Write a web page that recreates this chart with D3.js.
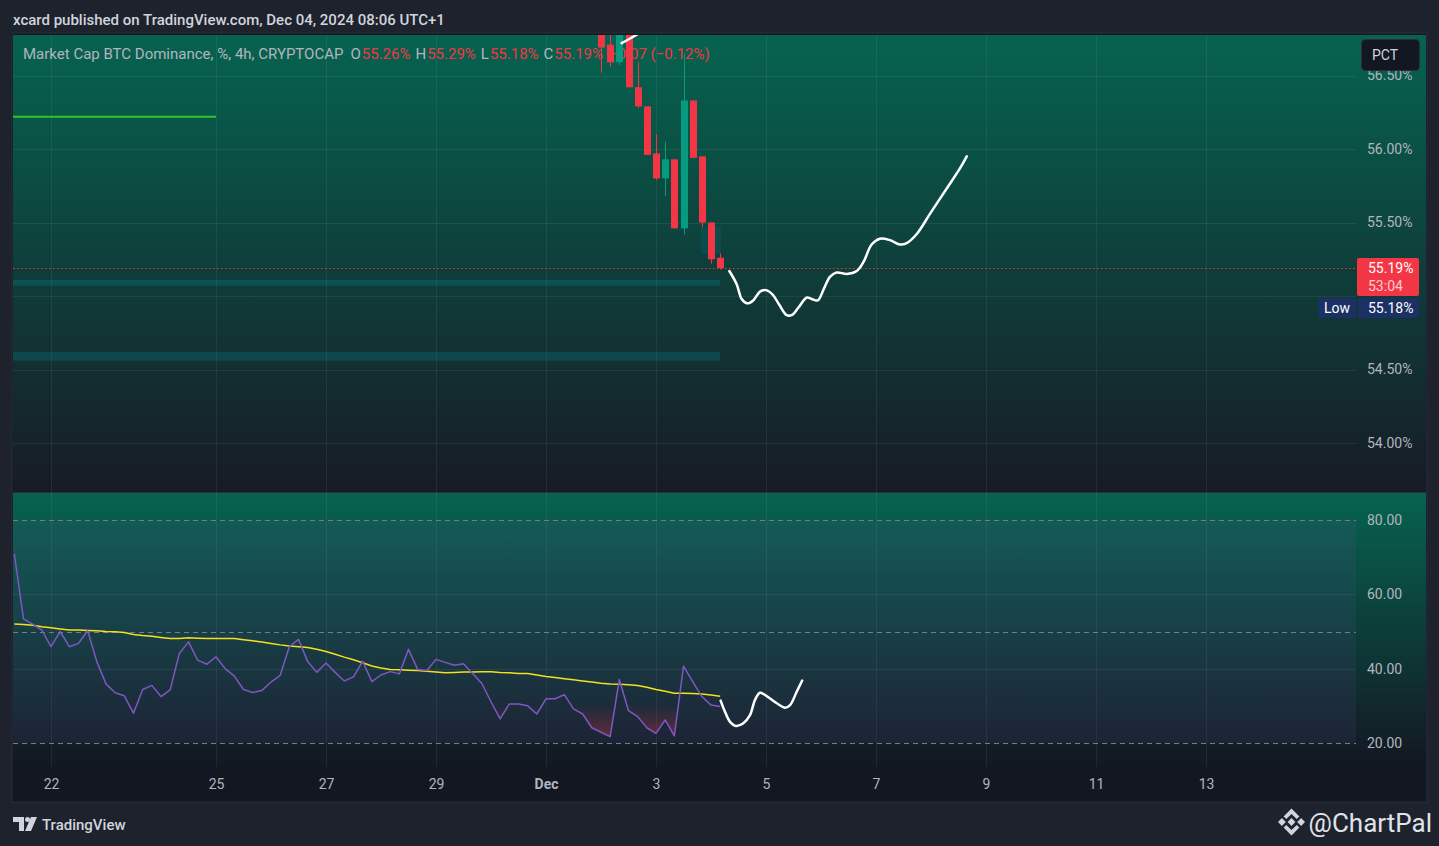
<!DOCTYPE html>
<html>
<head>
<meta charset="utf-8">
<script src="https://cdn.jsdelivr.net/npm/d3@7/dist/d3.min.js"></script>
<style>
  html, body { margin: 0; padding: 0; background: #1e222d; overflow: hidden; }
  svg { display: block; font-family: Roboto, "Noto Sans", sans-serif; }
</style>
</head>
<body>
<div id="chart"></div>
<script>
var WIDTH = 1439;
var HEIGHT = 846;

// ---- data ----
var candleTimes = ['2024-12-02T00:00:00Z', '2024-12-02T04:00:00Z', '2024-12-02T08:00:00Z', '2024-12-02T12:00:00Z',
  '2024-12-02T16:00:00Z', '2024-12-02T20:00:00Z', '2024-12-03T00:00:00Z', '2024-12-03T04:00:00Z',
  '2024-12-03T08:00:00Z', '2024-12-03T12:00:00Z', '2024-12-03T16:00:00Z', '2024-12-03T20:00:00Z',
  '2024-12-04T00:00:00Z', '2024-12-04T04:00:00Z'];
var opens  = [56.95, 56.71, 56.59, 56.84, 56.42, 56.29, 55.97, 55.80, 55.93, 55.46, 56.33, 55.95, 55.50, 55.26];
var highs  = [57.02, 56.88, 56.90, 56.88, 56.59, 56.29, 56.10, 56.05, 55.93, 56.65, 56.33, 55.95, 55.50, 55.29];
var lows   = [56.52, 56.56, 56.57, 56.42, 56.28, 55.96, 55.79, 55.68, 55.46, 55.42, 55.94, 55.47, 55.22, 55.18];
var closes = [56.69, 56.59, 56.84, 56.42, 56.29, 55.96, 55.80, 55.93, 55.46, 56.33, 55.94, 55.50, 55.25, 55.19];
var legendChange = '\u22120.07 (\u22120.12%)';

// RSI (4h) from Nov 21 08:00 to Dec 4 04:00
var rsiValues = [70.9, 53.4, 52.0, 50.4, 45.9, 50.0, 45.9, 46.8, 50.2, 41.9,
  35.9, 33.5, 32.7, 28.0, 34.4, 35.5, 32.5, 34.3, 44.1, 47.2,
  42.3, 41.2, 43.2, 40.0, 38.0, 34.4, 33.6, 34.1, 36.4, 38.2,
  45.9, 47.9, 41.9, 39.0, 41.5, 39.0, 36.7, 37.8, 42.0, 36.5,
  38.3, 39.2, 38.6, 45.2, 39.8, 39.5, 42.5, 41.7, 40.9, 41.3,
  38.7, 36.0, 31.1, 26.5, 30.5, 30.5, 30.0, 27.8, 31.9, 31.9,
  33.0, 29.2, 27.8, 24.1, 22.9, 21.7, 37.1, 28.7, 27.1, 24.1,
  22.6, 26.2, 21.9, 40.7, 36.5, 32.5, 30.2, 29.8];
var rsiMaValues = [52.0, 51.9, 51.7, 51.3, 51.0, 50.7, 50.4, 50.4, 50.3, 50.2,
  50.0, 49.9, 49.7, 49.2, 48.9, 48.7, 48.4, 48.1, 48.1, 48.3,
  48.2, 48.1, 48.1, 48.1, 48.1, 47.8, 47.5, 47.2, 46.8, 46.4,
  46.1, 45.9, 45.7, 45.2, 44.6, 43.9, 43.1, 42.4, 41.6, 40.7,
  40.2, 39.8, 39.7, 39.6, 39.5, 39.3, 39.1, 38.9, 39.0, 39.1,
  39.1, 39.2, 39.2, 39.0, 38.9, 38.7, 38.7, 38.3, 37.9, 37.6,
  37.3, 37.0, 36.7, 36.4, 36.1, 35.9, 35.8, 35.7, 35.5, 35.0,
  34.4, 33.9, 33.4, 33.4, 33.3, 33.2, 32.9, 32.6];

// hand drawn projections: hours after Dec 1 00:00, value
var sketchHours  = [80.0, 83.2, 85.4, 87.8, 90.4, 93.4, 96.0, 98.9, 101.8, 105.0, 107.2, 110.1, 113.8, 115.9,
  118.6, 121.0, 123.9, 126.8, 131.2, 135.6, 138.5, 142.1, 145.7, 150.1, 154.5, 157.4, 161.7, 167.6, 174.8, 180.7, 183.6];
var sketchPrices = [55.17, 55.08, 54.98, 54.95, 54.97, 55.03, 55.04, 55.01, 54.94, 54.87, 54.87, 54.92, 54.99, 54.98,
  54.97, 55.04, 55.13, 55.16, 55.15, 55.17, 55.23, 55.35, 55.39, 55.38, 55.35, 55.36, 55.42, 55.56, 55.73, 55.87, 55.95];
var topSketchHours  = [33.0, 36.5, 42.0];
var topSketchPrices = [56.72, 56.75, 56.80];
var rsiSketchHours  = [76.2, 78.1, 80.3, 82.9, 86.1, 89.0, 91.2, 93.4, 96.3, 100.7, 104.3, 106.5, 109.4, 111.8];
var rsiSketchValues = [31.4, 28.4, 25.7, 24.6, 25.3, 27.5, 31.6, 33.5, 32.6, 30.7, 29.5, 30.2, 33.8, 36.8];

// drawn zones: [price low, price high]
var zoneBands = [[55.07, 55.11], [54.56, 54.62]];
var zoneEnd = '2024-12-04T04:00:00Z';
var smallBox = {start: 67.6, end: 76.4, low: 55.29, high: 55.47};
var greenLevel = {price: 56.22, end: '2024-11-25T00:00:00Z'};

var priceTicks = [54, 54.5, 55, 55.5, 56, 56.5];
var rsiTicks = [20, 40, 60, 80];
var rsiBands = [80, 50, 20];
var xTickDates = ['2024-11-22', '2024-11-25', '2024-11-27', '2024-11-29', '2024-12-01', '2024-12-03',
  '2024-12-05', '2024-12-07', '2024-12-09', '2024-12-11', '2024-12-13'];
var xTickLabels = ['22', '25', '27', '29', 'Dec', '3', '5', '7', '9', '11', '13'];

var lastPrice = 55.19;
var lowPrice = 55.18;

// ---- layout ----
var PANE_L = 13, PANE_R = 1356, AXIS_R = 1426;
var MAIN_T = 35, MAIN_B = 492;
var RSI_T = 493, RSI_B = 767;
var FRAME_B = 801;

var RED = '#f23645', GREEN = '#089981';

var dec1 = Date.UTC(2024, 11, 1);
function hoursToDate(h) { return new Date(dec1 + h * 3600e3); }

function makeSVG() {
  var svg = d3.select('#chart').append('svg')
    .attr('width', WIDTH)
    .attr('height', HEIGHT);
  return svg;
}

var svg = makeSVG();

var x = d3.scaleUtc()
  .domain([d3.isoParse('2024-11-22T00:00:00Z'), d3.isoParse('2024-12-13T00:00:00Z')])
  .range([51, 1206]);
var y = d3.scaleLinear().domain([54, 56]).range([443, 149]);
var ry = d3.scaleLinear().domain([20, 80]).range([743, 520]);

var defs = svg.append('defs');

function paneGradient(id, top, bottom, bottomColor) {
  var g = defs.append('linearGradient').attr('id', id)
    .attr('gradientUnits', 'userSpaceOnUse')
    .attr('x1', 0).attr('x2', 0).attr('y1', top).attr('y2', bottom);
  g.append('stop').attr('offset', 0).attr('stop-color', '#06634f');
  g.append('stop').attr('offset', 1).attr('stop-color', bottomColor);
}
paneGradient('mainBg', MAIN_T, MAIN_B, '#171b26');
paneGradient('rsiBg', RSI_T, RSI_B, '#131722');

var osGrad = defs.append('linearGradient').attr('id', 'osFill')
  .attr('gradientUnits', 'userSpaceOnUse')
  .attr('x1', 0).attr('x2', 0).attr('y1', ry(30)).attr('y2', ry(20));
osGrad.append('stop').attr('offset', 0).attr('stop-color', RED).attr('stop-opacity', 0);
osGrad.append('stop').attr('offset', 1).attr('stop-color', RED).attr('stop-opacity', 0.4);

var obGrad = defs.append('linearGradient').attr('id', 'obFill')
  .attr('gradientUnits', 'userSpaceOnUse')
  .attr('x1', 0).attr('x2', 0).attr('y1', ry(70)).attr('y2', ry(80));
obGrad.append('stop').attr('offset', 0).attr('stop-color', GREEN).attr('stop-opacity', 0);
obGrad.append('stop').attr('offset', 1).attr('stop-color', GREEN).attr('stop-opacity', 0.4);

defs.append('clipPath').attr('id', 'mainClip').append('rect')
  .attr('x', PANE_L).attr('y', MAIN_T).attr('width', PANE_R - PANE_L).attr('height', MAIN_B - MAIN_T);
defs.append('clipPath').attr('id', 'rsiClip').append('rect')
  .attr('x', PANE_L).attr('y', RSI_T).attr('width', PANE_R - PANE_L).attr('height', RSI_B - RSI_T);
defs.append('clipPath').attr('id', 'osClip').append('rect')
  .attr('x', PANE_L).attr('y', ry(30)).attr('width', PANE_R - PANE_L).attr('height', RSI_B - ry(30));
defs.append('clipPath').attr('id', 'obClip').append('rect')
  .attr('x', PANE_L).attr('y', RSI_T).attr('width', PANE_R - PANE_L).attr('height', ry(70) - RSI_T);

// ---- frame & backgrounds ----
svg.append('rect').attr('width', WIDTH).attr('height', HEIGHT).attr('fill', '#1e222d');
svg.append('rect').attr('x', 12).attr('y', 33).attr('width', AXIS_R - 12 + 1).attr('height', FRAME_B - 33 + 1)
  .attr('fill', '#131722').attr('stroke', '#2a2e39');
svg.append('rect').attr('x', PANE_L).attr('y', MAIN_T).attr('width', AXIS_R - PANE_L).attr('height', MAIN_B - MAIN_T)
  .attr('fill', 'url(#mainBg)');
svg.append('rect').attr('x', PANE_L).attr('y', RSI_T).attr('width', AXIS_R - PANE_L).attr('height', RSI_B - RSI_T)
  .attr('fill', 'url(#rsiBg)');
svg.append('line').attr('x1', PANE_L).attr('x2', AXIS_R).attr('y1', 492.5).attr('y2', 492.5)
  .attr('stroke', '#2a2e39');

svg.append('text').attr('x', 13).attr('y', 25)
  .attr('fill', '#d1d4dc').attr('font-size', 15).attr('font-weight', 500)
  .text('xcard published on TradingView.com, Dec 04, 2024 08:06 UTC+1');

// ---- grid ----
var grid = svg.append('g').attr('stroke', 'rgba(240,243,250,0.07)').attr('stroke-width', 1);
grid.selectAll('line.v').data(xTickDates).enter().append('line')
  .attr('x1', function (d) { return Math.round(x(d3.isoParse(d + 'T00:00:00Z'))) + 0.5; })
  .attr('x2', function (d) { return Math.round(x(d3.isoParse(d + 'T00:00:00Z'))) + 0.5; })
  .attr('y1', MAIN_T).attr('y2', RSI_B);
grid.selectAll('line.h').data(priceTicks).enter().append('line')
  .attr('x1', PANE_L).attr('x2', PANE_R)
  .attr('y1', function (d) { return Math.round(y(d)) + 0.5; })
  .attr('y2', function (d) { return Math.round(y(d)) + 0.5; });
grid.selectAll('line.r').data([40, 60]).enter().append('line')
  .attr('x1', PANE_L).attr('x2', PANE_R)
  .attr('y1', function (d) { return Math.round(ry(d)) + 0.5; })
  .attr('y2', function (d) { return Math.round(ry(d)) + 0.5; });

// ---- main pane ----
var main = svg.append('g').attr('clip-path', 'url(#mainClip)');

// legend sits under the candles
var legend = main.append('text').attr('x', 23).attr('y', 59).attr('font-size', 15).attr('fill', '#b2b5be');
legend.append('tspan').text('Market Cap BTC Dominance, %, 4h, CRYPTOCAP');
var ohlc = [['O', opens[13]], ['H', highs[13]], ['L', lows[13]], ['C', closes[13]]];
ohlc.forEach(function (p, i) {
  legend.append('tspan').attr('dx', i === 0 ? 7 : 5).text(p[0]);
  legend.append('tspan').attr('dx', 1).attr('fill', RED).text(p[1].toFixed(2) + '%');
});
legend.append('tspan').attr('dx', 6).attr('fill', RED).text(legendChange);

main.selectAll('rect.zone').data(zoneBands).enter().append('rect')
  .attr('x', PANE_L)
  .attr('width', x(d3.isoParse(zoneEnd)) - PANE_L)
  .attr('y', function (d) { return y(d[1]); })
  .attr('height', function (d) { return y(d[0]) - y(d[1]); })
  .attr('fill', 'rgba(0,188,212,0.17)');

main.append('rect')
  .attr('x', x(hoursToDate(smallBox.start)))
  .attr('width', x(hoursToDate(smallBox.end)) - x(hoursToDate(smallBox.start)))
  .attr('y', y(smallBox.high))
  .attr('height', y(smallBox.low) - y(smallBox.high))
  .attr('fill', 'rgba(0,130,150,0.18)');

main.append('line')
  .attr('x1', PANE_L).attr('x2', x(d3.isoParse(greenLevel.end)))
  .attr('y1', y(greenLevel.price)).attr('y2', y(greenLevel.price))
  .attr('stroke', '#2dc52b').attr('stroke-width', 2);

main.append('line')
  .attr('x1', PANE_L).attr('x2', PANE_R)
  .attr('y1', Math.round(y(lastPrice)) + 0.5).attr('y2', Math.round(y(lastPrice)) + 0.5)
  .attr('stroke', RED).attr('stroke-width', 1).attr('stroke-dasharray', '1.5,2.5');

var candles = candleTimes.map(function (t, i) {
  return {t: d3.isoParse(t), o: opens[i], h: highs[i], l: lows[i], c: closes[i]};
});
var bodyW = 7;
var cg = main.selectAll('g.candle').data(candles).enter().append('g')
  .attr('fill', function (d) { return d.c >= d.o ? GREEN : RED; })
  .attr('stroke', function (d) { return d.c >= d.o ? GREEN : RED; });
cg.append('line')
  .attr('x1', function (d) { return Math.round(x(d.t)) + 0.5; })
  .attr('x2', function (d) { return Math.round(x(d.t)) + 0.5; })
  .attr('y1', function (d) { return y(d.h); })
  .attr('y2', function (d) { return y(d.l); });
cg.append('rect')
  .attr('stroke', 'none')
  .attr('x', function (d) { return Math.round(x(d.t)) - 3; })
  .attr('width', bodyW)
  .attr('y', function (d) { return y(Math.max(d.o, d.c)); })
  .attr('height', function (d) { return Math.max(1, Math.abs(y(d.o) - y(d.c))); });

var sketchLine = d3.line().curve(d3.curveCatmullRom.alpha(0.5))
  .x(function (d) { return x(hoursToDate(d[0])); })
  .y(function (d) { return y(d[1]); });
main.append('path')
  .datum(d3.zip(sketchHours, sketchPrices))
  .attr('d', sketchLine)
  .attr('fill', 'none').attr('stroke', '#ffffff').attr('stroke-width', 2.5)
  .attr('stroke-linecap', 'round').attr('stroke-linejoin', 'round');
main.append('path')
  .datum(d3.zip(topSketchHours, topSketchPrices))
  .attr('d', sketchLine)
  .attr('fill', 'none').attr('stroke', '#ffffff').attr('stroke-width', 2.5)
  .attr('stroke-linecap', 'round');

// ---- price axis ----
var lastY = y(lastPrice);
var yAxis = d3.axisRight(y).tickValues(priceTicks.filter(function (t) {
  return Math.abs(y(t) - (lastY + 40)) > 14;
})).tickSize(0).tickPadding(0).tickFormat(function (d) { return d.toFixed(2) + '%'; });
var ya = svg.append('g').attr('transform', 'translate(1367,0)').call(yAxis);
ya.select('.domain').remove();
ya.selectAll('text').attr('fill', '#b2b5be').attr('font-size', 14).attr('font-family', 'Roboto, sans-serif');

svg.append('rect').attr('x', 1357).attr('y', lastY - 10).attr('width', 62).attr('height', 38)
  .attr('rx', 2).attr('fill', RED);
svg.append('text').attr('x', 1368).attr('y', lastY + 5).attr('font-size', 14).attr('fill', '#ffffff')
  .text(lastPrice.toFixed(2) + '%');
svg.append('text').attr('x', 1368).attr('y', lastY + 23).attr('font-size', 14).attr('fill', 'rgba(255,255,255,0.75)')
  .text('53:04');
svg.append('rect').attr('x', 1318).attr('y', lastY + 30).attr('width', 38).attr('height', 20).attr('fill', '#1b3164');
svg.append('rect').attr('x', 1358).attr('y', lastY + 30).attr('width', 61).attr('height', 20).attr('fill', '#1b3164');
svg.append('text').attr('x', 1337).attr('y', lastY + 45).attr('text-anchor', 'middle')
  .attr('font-size', 14).attr('fill', '#ffffff').text('Low');
svg.append('text').attr('x', 1368).attr('y', lastY + 45).attr('font-size', 14).attr('fill', '#ffffff')
  .text(lowPrice.toFixed(2) + '%');

svg.append('rect').attr('x', 1361.5).attr('y', 39.5).attr('width', 58).attr('height', 31).attr('rx', 4)
  .attr('fill', '#131722').attr('stroke', '#2a2e39');
svg.append('text').attr('x', 1385).attr('y', 60).attr('text-anchor', 'middle')
  .attr('font-size', 14).attr('fill', '#d1d4dc').text('PCT');

// ---- RSI pane ----
var rsi = svg.append('g').attr('clip-path', 'url(#rsiClip)');
rsi.append('rect').attr('x', PANE_L).attr('width', PANE_R - PANE_L)
  .attr('y', ry(80)).attr('height', ry(20) - ry(80))
  .attr('fill', 'rgba(126,87,194,0.1)');
rsi.selectAll('line.band').data(rsiBands).enter().append('line')
  .attr('x1', PANE_L).attr('x2', PANE_R)
  .attr('y1', function (d) { return Math.round(ry(d)) + 0.5; })
  .attr('y2', function (d) { return Math.round(ry(d)) + 0.5; })
  .attr('stroke', '#787b86').attr('stroke-dasharray', '5,4');

var rsiTimes = d3.utcHour.every(4).range(new Date(Date.UTC(2024, 10, 21, 8)), new Date(Date.UTC(2024, 11, 4, 8)));
var rsiData = rsiTimes.map(function (t, i) { return {t: t, v: rsiValues[i], m: rsiMaValues[i]}; });

rsi.append('path').datum(rsiData)
  .attr('clip-path', 'url(#osClip)')
  .attr('fill', 'url(#osFill)')
  .attr('d', d3.area().x(function (d) { return x(d.t); }).y0(ry(30)).y1(function (d) { return ry(d.v); }));
rsi.append('path').datum(rsiData)
  .attr('clip-path', 'url(#obClip)')
  .attr('fill', 'url(#obFill)')
  .attr('d', d3.area().x(function (d) { return x(d.t); }).y0(ry(70)).y1(function (d) { return ry(d.v); }));

rsi.append('path').datum(rsiData)
  .attr('fill', 'none').attr('stroke', '#f5e21b').attr('stroke-width', 1.5)
  .attr('d', d3.line().x(function (d) { return x(d.t); }).y(function (d) { return ry(d.m); }));
rsi.append('path').datum(rsiData)
  .attr('fill', 'none').attr('stroke', '#7e57c2').attr('stroke-width', 1.5).attr('stroke-linejoin', 'round')
  .attr('d', d3.line().x(function (d) { return x(d.t); }).y(function (d) { return ry(d.v); }));

rsi.append('path')
  .datum(d3.zip(rsiSketchHours, rsiSketchValues))
  .attr('d', d3.line().curve(d3.curveCatmullRom.alpha(0.5))
    .x(function (d) { return x(hoursToDate(d[0])); })
    .y(function (d) { return ry(d[1]); }))
  .attr('fill', 'none').attr('stroke', '#ffffff').attr('stroke-width', 2.5)
  .attr('stroke-linecap', 'round').attr('stroke-linejoin', 'round');

var rAxis = d3.axisRight(ry).tickValues(rsiTicks).tickSize(0).tickPadding(0)
  .tickFormat(function (d) { return d.toFixed(2); });
var ra = svg.append('g').attr('transform', 'translate(1367,0)').call(rAxis);
ra.select('.domain').remove();
ra.selectAll('text').attr('fill', '#b2b5be').attr('font-size', 14).attr('font-family', 'Roboto, sans-serif');

// ---- time axis ----
var xAxis = d3.axisBottom(x)
  .tickValues(xTickDates.map(function (d) { return d3.isoParse(d + 'T00:00:00Z'); }))
  .tickSize(0).tickPadding(0)
  .tickFormat(function (d, i) { return xTickLabels[i]; });
var xa = svg.append('g').attr('transform', 'translate(0,' + 784 + ')').call(xAxis);
xa.select('.domain').remove();
xa.selectAll('text').attr('dy', '0.35em').attr('y', 0)
  .attr('fill', '#b2b5be').attr('font-size', 14).attr('font-family', 'Roboto, sans-serif')
  .attr('font-weight', function (d, i) { return xTickLabels[i] === 'Dec' ? 700 : 400; });

// ---- footer ----
var logo = svg.append('g').attr('fill', '#d1d4dc');
logo.append('path').attr('d', 'M13,817 H24 V831 H19 V822 H13 Z');
logo.append('circle').attr('cx', 27.5).attr('cy', 819.5).attr('r', 2.5);
logo.append('path').attr('d', 'M31,817 H37 L31,831 H25 Z');
svg.append('text').attr('x', 42).attr('y', 830).attr('font-size', 15).attr('fill', '#d1d4dc')
  .attr('font-weight', 500).text('TradingView');

var bn = svg.append('g').attr('fill', '#d1d4dc').attr('transform', 'translate(1291.5,822)');
bn.append('path').attr('d', 'M0,-3.9 L3.9,0 L0,3.9 L-3.9,0 Z');
bn.append('path').attr('d', 'M-13.5,0 L-9.6,-3.9 L-5.7,0 L-9.6,3.9 Z');
bn.append('path').attr('d', 'M13.5,0 L9.6,-3.9 L5.7,0 L9.6,3.9 Z');
bn.append('path').attr('d', 'M0,-13.5 L7.9,-5.6 L5.2,-2.9 L0,-8.1 L-5.2,-2.9 L-7.9,-5.6 Z');
bn.append('path').attr('d', 'M0,13.5 L7.9,5.6 L5.2,2.9 L0,8.1 L-5.2,2.9 L-7.9,5.6 Z');
svg.append('text').attr('x', 1432).attr('y', 832).attr('text-anchor', 'end')
  .attr('font-size', 26).attr('fill', '#e0e3eb').text('@ChartPal');
</script>
</body>
</html>
